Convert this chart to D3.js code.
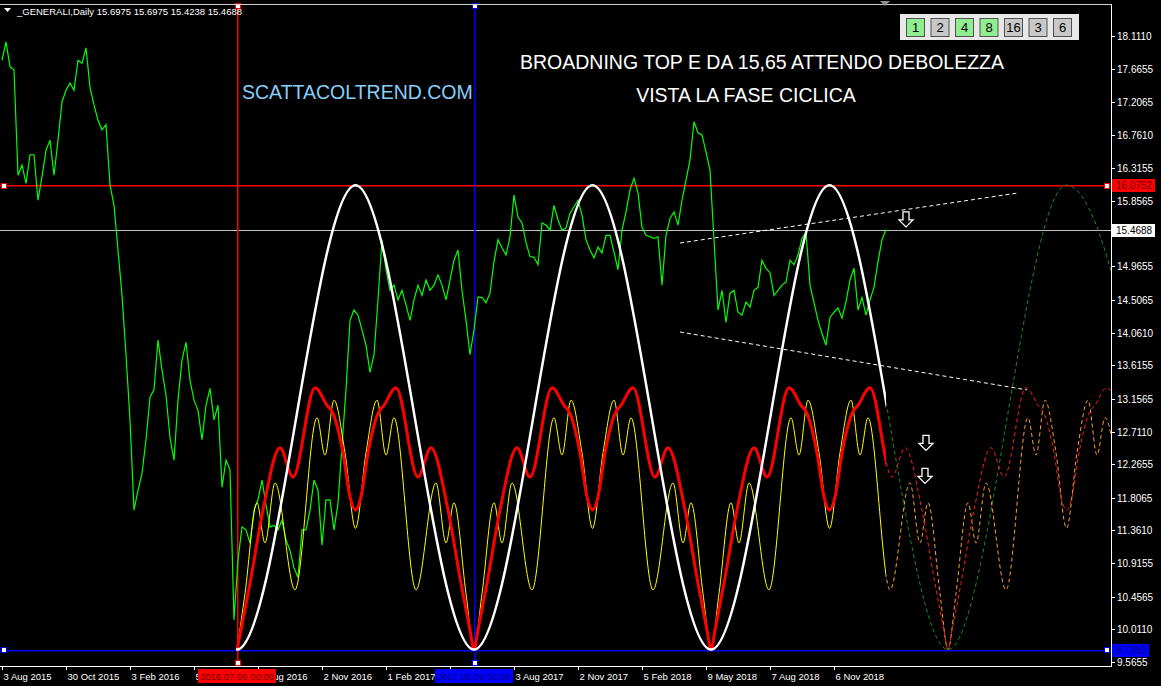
<!DOCTYPE html>
<html><head><meta charset="utf-8">
<script src="https://cdn.jsdelivr.net/npm/d3@7"></script>
<style>
html,body{margin:0;padding:0;background:#000;overflow:hidden}
svg{display:block}
text{font-family:"Liberation Sans",Arial,sans-serif}
</style></head><body>
<svg id="c" width="1161" height="686"></svg>
<script>
// ---------------- data ----------------
const symbolTitle = "_GENERALI,Daily  15.6975 15.6975 15.4238 15.4688";
const priceTickLabels = ["18.1110","17.6655","17.2065","16.7610","16.3155","15.8565","15.4110","14.9655","14.5065","14.0610","13.6155","13.1565","12.7110","12.2655","11.8065","11.3610","10.9155","10.4565","10.0110","9.5655"];
const dateTickBars = [0,64,128,192,256,320,384,448,512,576,640,704,768,832];
const dateTickLabels = ["3 Aug 2015","30 Oct 2015","3 Feb 2016","5 May 2016","5 Aug 2016","2 Nov 2016","1 Feb 2017","4 May 2017","3 Aug 2017","2 Nov 2017","5 Feb 2018","9 May 2018","7 Aug 2018","6 Nov 2018"];
const closeStepBars = 4;
const closes = [
17.78,18.03,17.69,17.65,16.21,16.35,16.10,16.49,16.49,15.87,
16.19,16.55,16.69,16.21,16.69,17.21,17.37,17.47,17.37,17.78,
17.74,17.95,17.41,17.17,16.96,16.83,16.90,16.08,15.80,15.19,
14.57,13.76,12.87,11.64,11.91,12.14,12.60,13.18,13.28,13.96,
13.55,13.21,12.63,12.32,13.14,13.69,13.93,13.41,13.14,13.00,
12.60,13.07,13.30,12.87,13.07,11.95,12.32,12.19,10.14,10.96,
11.41,11.37,11.19,11.64,11.78,12.05,11.71,11.41,11.43,11.37,
11.50,11.23,11.09,10.85,10.72,11.37,11.37,11.64,12.05,11.91,
11.16,11.78,11.78,11.37,11.73,12.53,13.28,14.23,14.37,14.30,
14.10,13.89,13.52,13.76,14.51,15.33,14.92,14.64,14.71,14.51,
14.64,14.44,14.23,14.51,14.71,14.57,14.78,14.64,14.71,14.85,
14.71,14.51,14.78,15.05,15.19,14.64,14.23,13.76,14.10,14.55,
14.54,14.47,14.60,15.03,15.33,15.22,15.12,15.37,15.94,15.64,
15.56,15.29,15.10,15.09,14.99,15.56,15.53,15.46,15.80,15.60,
15.46,15.49,15.69,15.78,15.87,15.67,15.33,15.19,15.08,15.23,
15.15,15.39,15.39,15.16,14.92,15.46,15.71,16.01,16.17,15.97,
15.50,15.39,15.37,15.35,15.37,14.71,15.39,15.62,15.71,15.53,
15.87,16.14,16.42,16.94,16.79,16.76,16.53,16.28,15.33,14.37,
14.64,14.20,14.60,14.64,14.34,14.30,14.48,14.41,14.64,14.68,
15.05,14.94,14.88,14.57,14.64,14.71,14.75,15.05,14.99,15.12,
15.35,15.43,14.71,14.47,14.23,14.05,13.89,14.27,14.34,14.40,
14.26,14.48,14.78,14.94,14.37,14.54,14.30,14.51,14.68,15.03,
15.33,15.4688];
const firstCycleBar = 235;
const lastBar = 884;
const lastBarAxis = 1109;

// main cycle (white, projected dark green)
const whiteBars = [116.5,235,353.5,472,590.5,709,827.5,946,1064.5,1183];
const whiteVals = [16.0752,9.735,16.0752,9.735,16.0752,9.735,16.0752,9.735,16.0752,9.735];

// composite cycle (red)
const redBars = [
235,239,248,261,278,291,313,325,331,341,348,353.5,359,366,376,382,394,416,429,446,459,468,
472,476,485,498,515,528,550,562,568,578,585,590.5,596,603,613,619,631,653,666,683,696,705,
709,713,722,735,752,765,787,799,805,815,822,827.5,833,840,850,856,868,890,903,920,933,942,
946,950,959,972,989,1002,1024,1036,1042,1052,1059,1064.5,1070,1077,1087,1093,1105,1127];
const redVals = [
9.735,10.0,10.64,11.64,12.49,12.09,13.31,13.07,12.96,12.42,11.82,11.64,11.82,12.42,12.96,13.07,13.31,12.09,12.49,11.64,10.64,10.0,
9.735,10.0,10.64,11.64,12.49,12.09,13.31,13.07,12.96,12.42,11.82,11.64,11.82,12.42,12.96,13.07,13.31,12.09,12.49,11.64,10.64,10.0,
9.735,10.0,10.64,11.64,12.49,12.09,13.31,13.07,12.96,12.42,11.82,11.64,11.82,12.42,12.96,13.07,13.31,12.09,12.49,11.64,10.64,10.0,
9.735,10.0,10.64,11.64,12.49,12.09,13.31,13.07,12.96,12.42,11.82,11.64,11.82,12.42,12.96,13.07,13.31,12.09];

// composite cycle (yellow, projected orange)
const yellowBars = [
235,243,255,263,273,293,315,323,332,343,353.5,364,375,384,392,414,434,444,452,464,
472,480,492,500,510,530,552,560,569,580,590.5,601,612,621,629,651,671,681,689,701,
709,717,729,737,747,767,789,797,806,817,827.5,838,849,858,866,888,908,918,926,938,
946,954,966,974,984,1004,1026,1034,1043,1054,1064.5,1075,1086,1095,1103,1125];
const yellowVals = [
9.735,10.50,11.74,11.19,12.01,10.55,12.90,12.39,13.14,12.42,11.39,12.42,13.14,12.39,12.90,10.55,12.01,11.19,11.74,10.50,
9.735,10.50,11.74,11.19,12.01,10.55,12.90,12.39,13.14,12.42,11.39,12.42,13.14,12.39,12.90,10.55,12.01,11.19,11.74,10.50,
9.735,10.50,11.74,11.19,12.01,10.55,12.90,12.39,13.14,12.42,11.39,12.42,13.14,12.39,12.90,10.55,12.01,11.19,11.74,10.50,
9.735,10.50,11.74,11.19,12.01,10.55,12.90,12.39,13.14,12.42,11.39,12.42,13.14,12.39,12.90,10.55];

// broadening formation trendlines
const upperTrendBars = [678,1016];
const upperTrendVals = [15.285,15.968];
const lowerTrendBars = [678,1025];
const lowerTrendVals = [14.07,13.28];

// levels & markers
const resistanceLevel = 16.0752;
const bidLevel = 15.4688;
const supportLevel = 9.7350;
const redMarkerBar = 235, redMarkerLabel = "2016.07.06 00:00";
const blueMarkerBar = 472, blueMarkerLabel = "2017.08.09 00:00";
const arrowBars = [904,924,923];
const arrowVals = [15.60,12.55,12.10];
const buttonLabels = ["1","2","4","8","16","3","6"];
const buttonOn = [true,false,true,true,false,false,false];
const headline1 = "BROADNING TOP E DA 15,65 ATTENDO DEBOLEZZA";
const headline2 = "VISTA LA FASE CICLICA";
const siteLabel = "SCATTACOLTREND.COM";

// ---------------- drawing ----------------
const W = 1161, H = 686;
const plotL = 0, plotR = 1111, plotT = 4, plotB = 666;
const svg = d3.select("#c");
svg.append("rect").attr("width",W).attr("height",H).attr("fill","#000");

const x = d3.scaleLinear().domain([0, lastBarAxis]).range([2, plotR]);
const y = d3.scaleLinear().domain([9.5655, 18.1110]).range([662, 36]);

const defs = svg.append("defs");
defs.append("clipPath").attr("id","plot").append("rect")
  .attr("x",plotL).attr("y",plotT).attr("width",plotR-plotL).attr("height",plotB-plotT);
defs.append("clipPath").attr("id","solid").append("rect")
  .attr("x",x(firstCycleBar)-1).attr("y",plotT).attr("width",x(lastBar)-x(firstCycleBar)+1).attr("height",plotB-plotT);
defs.append("clipPath").attr("id","proj").append("rect")
  .attr("x",x(lastBar)).attr("y",plotT).attr("width",plotR-x(lastBar)).attr("height",plotB-plotT);

const g = svg.append("g").attr("clip-path","url(#plot)");

// horizontal levels
function hline(v,color,w){
  const yy = Math.round(y(v));
  g.append("rect").attr("x",plotL).attr("width",plotR-plotL).attr("y",yy).attr("height",w).attr("fill",color);
}
hline(resistanceLevel,"#ff0000",1.5);
hline(bidLevel,"#c0c0c0",1);
hline(supportLevel,"#0000ff",1.5);

// vertical markers
function vline(b,color){
  const xx = Math.round(x(b));
  g.append("rect").attr("x",xx).attr("width",1.5).attr("y",plotT).attr("height",plotB-plotT).attr("fill",color);
}
vline(redMarkerBar,"#ff0000");
vline(blueMarkerBar,"#0000ff");

// price line
const priceLine = d3.line().x((d,i)=>x(i*closeStepBars)).y(d=>y(d));
g.append("path").attr("d",priceLine(closes)).attr("fill","none").attr("stroke","#00ff00").attr("stroke-width",1.2);

// cycle helper
function cyc(bars, vals){
  return d3.line().x((d,i)=>x(bars[i])).y(d=>y(d)).curve(d3.curveMonotoneX)(vals);
}
const whiteD = cyc(whiteBars, whiteVals);
const redD = cyc(redBars, redVals);
const yellowD = cyc(yellowBars, yellowVals);

// projections (dashed)
const pg = g.append("g").attr("clip-path","url(#proj)");
pg.append("path").attr("d",whiteD).attr("fill","none").attr("stroke","#1f8a1f").attr("stroke-width",1).attr("stroke-dasharray","4,3");
pg.append("path").attr("d",yellowD).attr("fill","none").attr("stroke","#ffa030").attr("stroke-width",1).attr("stroke-dasharray","4,3");
pg.append("path").attr("d",redD).attr("fill","none").attr("stroke","#ff1a1a").attr("stroke-width",1).attr("stroke-dasharray","4,3");

// solid cycles
const sg = g.append("g").attr("clip-path","url(#solid)");
sg.append("path").attr("d",yellowD).attr("fill","none").attr("stroke","#ffff00").attr("stroke-width",1);
sg.append("path").attr("d",redD).attr("fill","none").attr("stroke","#ff0000").attr("stroke-width",3);
sg.append("path").attr("d",whiteD).attr("fill","none").attr("stroke","#ffffff").attr("stroke-width",2.5);

// trendlines
function tl(bars, vals){
  g.append("path").attr("d",d3.line().x((d,i)=>x(bars[i])).y(d=>y(d))(vals))
   .attr("fill","none").attr("stroke","#ffffff").attr("stroke-width",1).attr("stroke-dasharray","4,3");
}
tl(upperTrendBars, upperTrendVals);
tl(lowerTrendBars, lowerTrendVals);

// arrows
arrowBars.forEach((b,i)=>{
  const cx = x(b), cy = y(arrowVals[i]);
  const p = `M${cx-3},${cy-8} L${cx+3},${cy-8} L${cx+3},${cy} L${cx+7},${cy} L${cx},${cy+7} L${cx-7},${cy} L${cx-3},${cy} Z`;
  g.append("path").attr("d",p).attr("fill","#000").attr("stroke","#ffffff").attr("stroke-width",1.3);
});

// anchor squares
function sq(cx,cy,color){
  svg.append("rect").attr("x",Math.round(cx)-2.5).attr("y",Math.round(cy)-2.5).attr("width",5).attr("height",5)
   .attr("fill","#fff").attr("stroke",color).attr("stroke-width",1);
}
sq(4,y(resistanceLevel)+0.5,"#ff0000"); sq(1107,y(resistanceLevel)+0.5,"#ff0000");
sq(1107,y(supportLevel)+0.5,"#0000ff"); sq(4,y(supportLevel)+0.5,"#0000ff");
sq(x(redMarkerBar)+0.5,plotT+2,"#ff0000"); sq(x(redMarkerBar)+0.5,plotB-3,"#ff0000");
sq(x(blueMarkerBar)+0.5,plotT+2,"#0000ff"); sq(x(blueMarkerBar)+0.5,plotB-3,"#0000ff");

// frame
svg.append("line").attr("x1",0).attr("x2",plotR).attr("y1",plotT+0.5).attr("y2",plotT+0.5).attr("stroke","#d0d0d0");
svg.append("line").attr("x1",plotR+0.5).attr("x2",plotR+0.5).attr("y1",plotT).attr("y2",plotB).attr("stroke","#ffffff");
svg.append("line").attr("x1",0).attr("x2",plotR+1).attr("y1",plotB+0.5).attr("y2",plotB+0.5).attr("stroke","#ffffff");

// price axis
const pa = svg.append("g");
const boxLevels = [resistanceLevel, bidLevel, supportLevel];
priceTickLabels.forEach(t=>{
  const yy = Math.round(y(+t))+0.5;
  pa.append("line").attr("x1",plotR).attr("x2",plotR+4).attr("y1",yy).attr("y2",yy).attr("stroke","#fff");
  const hidden = boxLevels.some(v=>Math.abs(y(v)-y(+t))<9);
  if(!hidden) pa.append("text").attr("x",plotR+6).attr("y",yy+3.5).attr("fill","#fff").attr("font-size",10).text(t);
});
function priceBox(v,bg,fg,w){
  const yy = Math.round(y(v));
  pa.append("rect").attr("x",plotR+1).attr("y",yy-6).attr("width",w).attr("height",13).attr("fill",bg);
  pa.append("text").attr("x",plotR+5).attr("y",yy+4).attr("fill",fg).attr("font-size",10).text(v.toFixed(4));
}
priceBox(resistanceLevel,"#ff0000","#6a0000",43);
priceBox(bidLevel,"#ffffff","#000000",43);
priceBox(supportLevel,"#0000ff","#00007a",37);

// date axis
const da = svg.append("g");
dateTickBars.forEach((b,i)=>{
  const xx = Math.round(x(b))+0.5;
  da.append("line").attr("x1",xx).attr("x2",xx).attr("y1",plotB).attr("y2",plotB+4).attr("stroke","#fff");
  da.append("text").attr("x",xx+1).attr("y",680).attr("fill","#fff").attr("font-size",9.5).text(dateTickLabels[i]);
});
function dateBox(b,label,bg,fg){
  const cx = Math.round(x(b));
  da.append("rect").attr("x",cx-39).attr("y",669).attr("width",78).attr("height",14).attr("fill",bg);
  da.append("text").attr("x",cx).attr("y",680).attr("text-anchor","middle").attr("fill",fg).attr("font-size",9.5).text(label);
}
dateBox(redMarkerBar,redMarkerLabel,"#ff0000","#6a0000");
dateBox(blueMarkerBar,blueMarkerLabel,"#0000ff","#00007a");

// header
svg.append("path").attr("d","M4,8 L11,8 L7.5,12 Z").attr("fill","#fff");
svg.append("text").attr("x",17).attr("y",15).attr("fill","#fff").attr("font-size",9.5).text(symbolTitle);
// shift marker
svg.append("path").attr("d","M880,1 L890,1 L885,6 Z").attr("fill","#909090");

// headlines
svg.append("text").attr("x",762).attr("y",69).attr("text-anchor","middle").attr("fill","#fff").attr("font-size",19.5).text(headline1);
svg.append("text").attr("x",746).attr("y",102).attr("text-anchor","middle").attr("fill","#fff").attr("font-size",19.5).text(headline2);
svg.append("text").attr("x",242).attr("y",99).attr("fill","#87cefa").attr("font-size",19.5).text(siteLabel);

// buttons
const bp = svg.append("g");
bp.append("rect").attr("x",900).attr("y",14).attr("width",179).attr("height",26).attr("fill","#e8e8e8");
buttonLabels.forEach((t,i)=>{
  const bx = 906 + i*24.5;
  bp.append("rect").attr("x",bx+0.5).attr("y",18.5).attr("width",18).attr("height",18)
    .attr("fill",buttonOn[i]?"#90ee90":"#c8c8c8").attr("stroke","#505050");
  bp.append("text").attr("x",bx+9.5).attr("y",32).attr("text-anchor","middle").attr("fill","#000").attr("font-size",13).text(t);
});
</script>
</body></html>
